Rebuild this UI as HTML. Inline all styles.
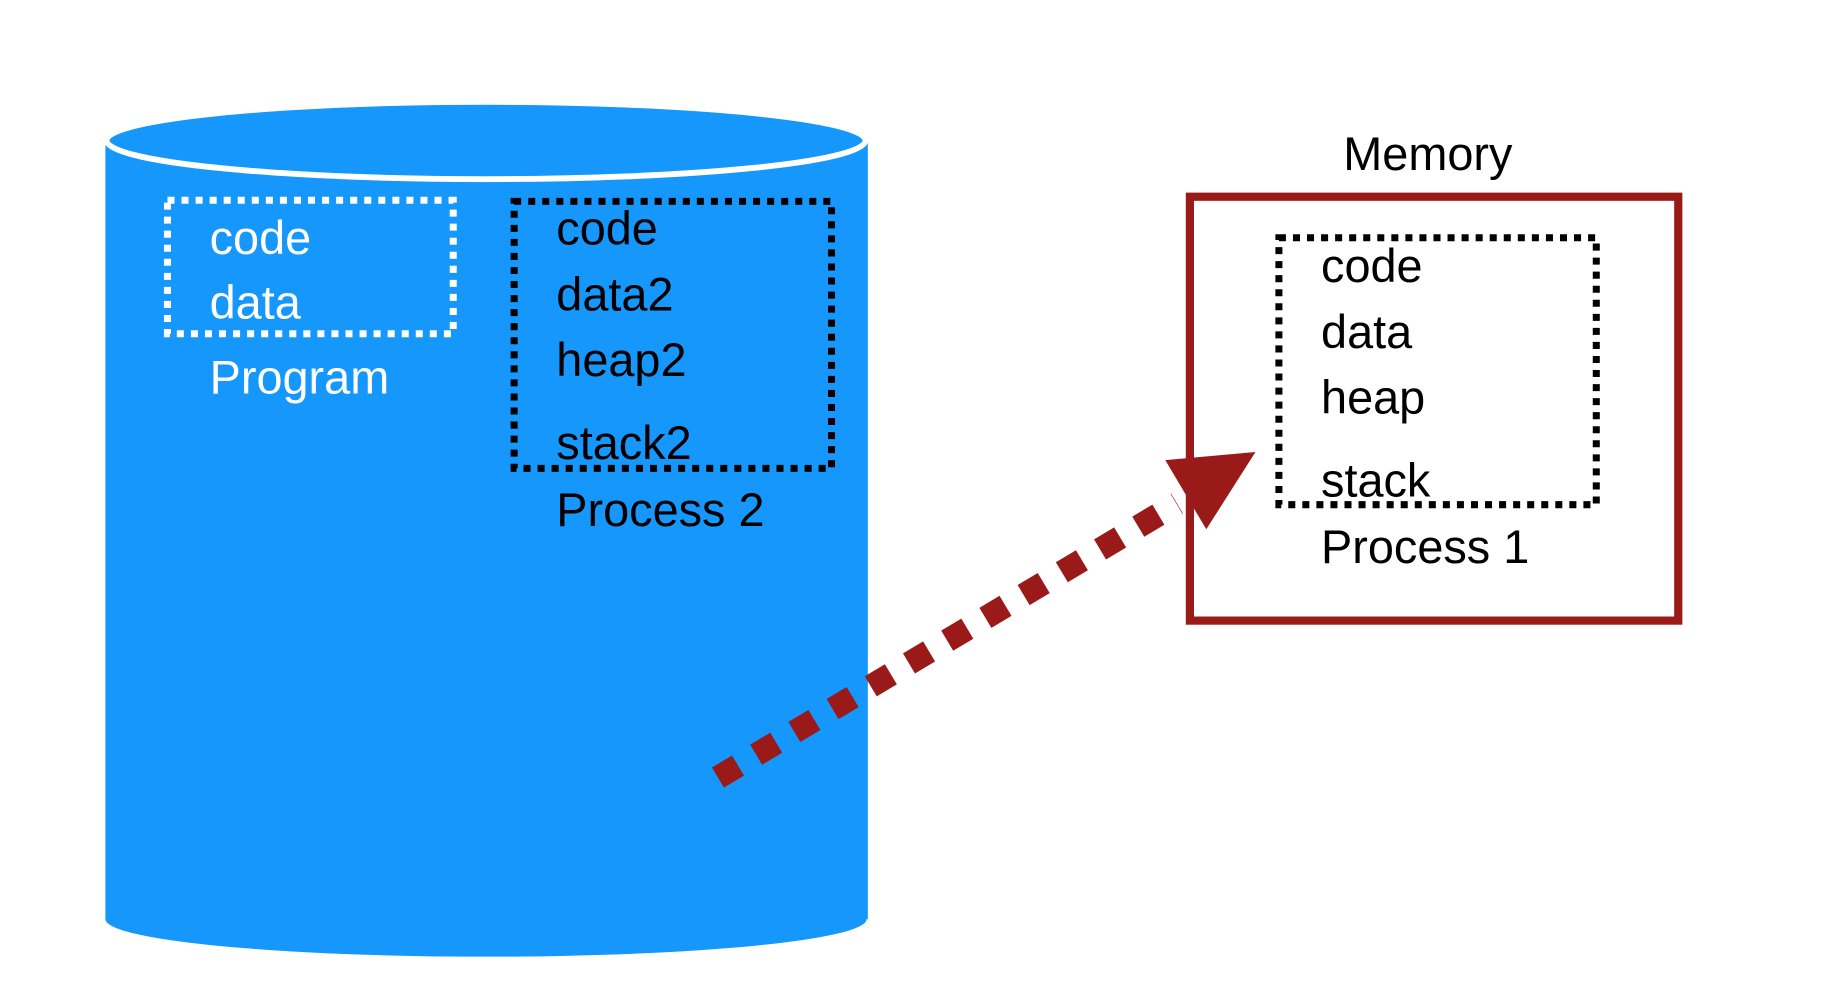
<!DOCTYPE html>
<html><head><style>html,body{margin:0;padding:0;background:#fff;}svg{display:block}</style></head>
<body>
<svg width="1827" height="1000" viewBox="0 0 1560 854" preserveAspectRatio="none" xmlns="http://www.w3.org/2000/svg" font-family="Liberation Sans, sans-serif" font-size="40">
<rect width="1560" height="854" fill="#fff"/>
<ellipse cx="415" cy="785" rx="325" ry="32" fill="#1597fb"/>
<rect x="90" y="122" width="651" height="663" fill="#1597fb"/>
<ellipse cx="415" cy="120" rx="324" ry="33" fill="#1597fb" stroke="#fff" stroke-width="5"/>
<rect x="143" y="171" width="244" height="114" fill="none" stroke="#fff" stroke-width="6" stroke-dasharray="6 6"/>
<g fill="#fff"><text x="179" y="217">code</text><text x="179" y="272">data</text><text x="179" y="336">Program</text></g>
<rect x="439" y="172" width="271" height="228" fill="none" stroke="#000" stroke-width="6" stroke-dasharray="6 6"/>
<g fill="#000"><text x="475" y="209">code</text><text x="475" y="265">data2</text><text x="475" y="321">heap2</text><text x="475" y="392">stack2</text><text x="475" y="449">Process 2</text></g>
<text x="1147" y="145" fill="#000">Memory</text>
<rect x="1016" y="168" width="417" height="362" fill="#fff" stroke="#9a1a1a" stroke-width="7"/>
<rect x="1092" y="203" width="271" height="228" fill="none" stroke="#000" stroke-width="6" stroke-dasharray="6 6"/>
<g fill="#000"><text x="1128" y="241">code</text><text x="1128" y="297">data</text><text x="1128" y="353">heap</text><text x="1128" y="424">stack</text><text x="1128" y="481">Process 1</text></g>
<line x1="613" y1="664" x2="1005" y2="430" stroke="#9a1a1a" stroke-width="20" stroke-dasharray="20 18"/>
<polygon points="995,393 1072,386 1030,452" fill="#9a1a1a"/>
</svg>
</body></html>
